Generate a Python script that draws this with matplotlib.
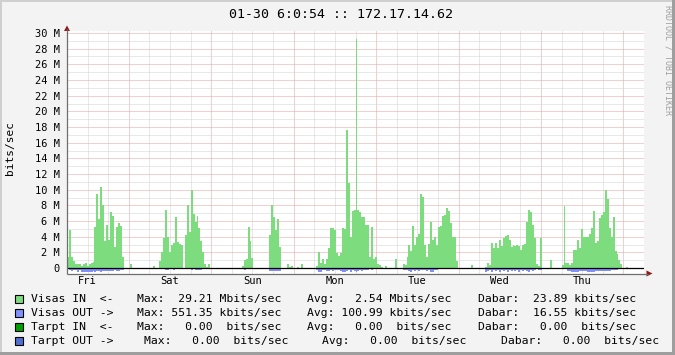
import matplotlib
matplotlib.use('Agg')
import matplotlib.pyplot as plt
from matplotlib.patches import Rectangle, Polygon
import numpy as np

W, H, DPI = 675, 355, 100
MONO = 'DejaVu Sans Mono'

# ---------------- data ----------------
days = ['Fri', 'Sat', 'Sun', 'Mon', 'Tue', 'Wed', 'Thu']
y_ticks = list(range(0, 31, 2))
y_tick_labels = ['0'] + [f'{v} M' for v in range(2, 31, 2)]
title = '01-30 6:0:54 :: 172.17.14.62'
y_label = 'bits/sec'
credit = 'RRDTOOL / TOBI OETIKER'

# IN traffic (Mbits/s), 42 samples per day, days start at 06:00
fri_in = [1.4, 4.8, 1.4, 0.85, 0.5, 0.5, 0.55, 0.3, 0.55, 0.65, 0.3, 0.55, 0.7, 0.8,
          5.2, 9.5, 6.2, 10.3, 8.1, 3.5, 5.5, 3.6, 7.2, 6.7, 2.7, 5.2, 5.8, 5.4, 1.4,
          0, 0, 0, 0.45, 0, 0, 0, 0, 0, 0, 0, 0, 0]
sat_in = [0, 0, 0.3, 0, 0, 0.9, 2.0, 3.8, 7.4, 4.0, 2.0, 2.9, 3.2, 6.55, 3.3, 3.1, 3.0,
          0, 4.2, 8.0, 4.6, 10.0, 6.85, 5.9, 6.6, 5.1, 3.4, 2.1, 0.45, 0.1, 0.45,
          0, 0, 0, 0, 0, 0, 0, 0, 0, 0, 0]
sun_in = [0, 0, 0, 0, 0, 0.3, 1.0, 1.2, 5.2, 3.5, 1.3, 0, 0, 0, 0, 0, 0, 0, 0,
          4.2, 8.0, 6.5, 4.8, 6.3, 2.7, 0, 0, 0, 0.5, 0.15, 0.25, 0, 0, 0.15, 0, 0.5,
          0, 0, 0, 0, 0, 0]
mon_in = [0, 0.25, 2.0, 0.6, 1.1, 0.5, 1.1, 2.55, 5.1, 5.1, 4.8, 1.9, 1.5, 1.95, 5.1,
          4.95, 17.6, 10.8, 4.0, 7.3, 7.4, 29.2, 7.4, 7.2, 6.5, 6.5, 5.5, 5.5, 1.35, 5.2,
          1.2, 1.35, 0.5, 0.4, 0.15, 0, 0.25, 0, 0, 0, 0, 1.1]
tue_in = [0, 0, 0, 0.5, 0.35, 1.45, 2.9, 2.2, 5.35, 2.9, 4.0, 4.4, 9.45, 9.1, 2.9, 1.35,
          3.1, 5.9, 3.6, 4.0, 2.95, 5.2, 5.35, 6.65, 6.8, 7.7, 7.3, 5.7, 4.0, 4.0, 0.9,
          0, 0, 0, 0, 0, 0, 0, 0.4, 0, 0, 0]
wed_in = [0, 0, 0, 0.1, 0.7, 0.4, 3.2, 2.6, 3.15, 2.5, 3.6, 2.85, 3.8, 4.1, 4.2, 3.6,
          2.7, 2.9, 2.75, 2.9, 2.75, 2.3, 2.9, 3.1, 5.9, 7.45, 7.1, 5.55, 3.8, 0.45, 0.3,
          3.8, 0, 0, 0, 0, 1.0, 0, 0, 0, 0, 0]
thu_in = [0.4, 7.95, 0.6, 0.7, 0.4, 0.65, 2.3, 2.25, 3.6, 2.5, 5.0, 3.9, 4.0, 4.0, 4.4,
          5.05, 7.3, 3.15, 3.5, 6.35, 6.75, 7.1, 9.9, 8.8, 5.05, 4.0, 6.55, 2.15, 1.85,
          1.0, 0.45, 0, 0, 0.15, 0, 0, 0, 0, 0, 0, 0, 0]

# OUT traffic (Mbits/s), drawn below the zero line
fri_out = [0.15, 0.3, 0.35, 0.25, 0.3, 0.45, 0.3, 0.45, 0.5, 0.55, 0.45, 0.55, 0.45, 0.35,
           0.45, 0.35, 0.35, 0.45, 0.35, 0.35, 0.35, 0.35, 0.35, 0.35, 0.3, 0.35, 0.35,
           0.3, 0.3, 0, 0, 0, 0, 0, 0, 0, 0, 0, 0, 0, 0, 0]
sat_out = [0, 0, 0, 0, 0, 0, 0, 0, 0.3, 0.3, 0, 0, 0.3, 0, 0, 0, 0, 0, 0, 0, 0, 0.3, 0,
           0.3, 0.3, 0.3, 0.3, 0, 0, 0, 0, 0, 0, 0, 0, 0, 0, 0, 0, 0, 0, 0]
sun_out = [0, 0, 0, 0, 0, 0, 0.3, 0, 0, 0, 0, 0, 0, 0, 0, 0, 0, 0, 0, 0.35, 0.35, 0.35,
           0.35, 0.35, 0.35, 0, 0, 0, 0, 0, 0, 0, 0, 0, 0, 0, 0, 0, 0, 0, 0, 0]
mon_out = [0, 0.25, 0.45, 0.45, 0.3, 0.3, 0.35, 0.35, 0.3, 0.35, 0.3, 0.25, 0.3, 0.35,
           0.45, 0.45, 0.35, 0.3, 0.55, 0.3, 0.35, 0.55, 0.35, 0.3, 0.35, 0.3, 0.3, 0.25,
           0.15, 0.25, 0.15, 0, 0, 0, 0, 0, 0, 0, 0, 0, 0, 0]
tue_out = [0, 0, 0, 0.25, 0.3, 0.3, 0.35, 0.55, 0.3, 0.35, 0.3, 0.35, 0.3, 0.3, 0.3,
           0.35, 0.3, 0.45, 0.45, 0.3, 0.25, 0, 0, 0, 0, 0, 0, 0, 0, 0, 0, 0, 0, 0, 0,
           0, 0, 0, 0, 0, 0, 0]
wed_out = [0, 0, 0, 0.55, 0.35, 0.3, 0.45, 0.3, 0.35, 0.3, 0.45, 0.3, 0.35, 0.3, 0.45,
           0.3, 0.35, 0.3, 0.35, 0.3, 0.45, 0.3, 0.35, 0.3, 0.35, 0.45, 0.3, 0.35, 0.3,
           0, 0.3, 0.3, 0, 0, 0, 0, 0, 0, 0, 0, 0, 0]
thu_out = [0, 0, 0, 0.35, 0.35, 0.5, 0.5, 0.5, 0.5, 0.35, 0.35, 0.35, 0.35, 0.5,
           0.5, 0.5, 0.5, 0.35, 0.35, 0.35, 0.35, 0.35, 0.35, 0.35, 0.35, 0.3, 0.3,
           0.3, 0.3, 0, 0, 0, 0, 0, 0, 0, 0, 0, 0, 0, 0, 0]

legend_labels = ['Visas IN  <-', 'Visas OUT ->', 'Tarpt IN  <-', 'Tarpt OUT ->']
legend_colors = ['#7ddc7d', '#8090ff', '#00a000', '#5070d0']
max_vals = [29.21, 551.35, 0.00, 0.00]
max_units = ['M', 'k', ' ', ' ']
avg_vals = [2.54, 100.99, 0.00, 0.00]
avg_units = ['M', 'k', ' ', ' ']
cur_vals = [23.89, 16.55, 0.00, 0.00]
cur_units = ['k', 'k', ' ', ' ']

# ---------------- figure ----------------
fig = plt.figure(figsize=(W / DPI, H / DPI), dpi=DPI)
fig.patch.set_facecolor('#f3f3f3')

# background / frame layer (pixel coords)
bg = fig.add_axes([0, 0, 1, 1], zorder=0)
bg.set_xlim(0, W); bg.set_ylim(H, 0); bg.axis('off')
bg.add_patch(Rectangle((0, 0), W, 2, color='#cfcfcf', lw=0))
bg.add_patch(Rectangle((0, 0), 2, H, color='#cfcfcf', lw=0))
bg.add_patch(Rectangle((0, H - 3), W, 3, color='#9e9e9e', lw=0))
bg.add_patch(Rectangle((W - 3, 0), 3, H, color='#9e9e9e', lw=0))

# data axes
ax_l, ax_r, ax_t, ax_b = 67, 644, 31, 274
ax = fig.add_axes([ax_l / W, (H - ax_b) / H, (ax_r - ax_l) / W, (ax_b - ax_t) / H], zorder=1)
ax.set_facecolor('white')
px_per_m = 235 / 30.0
ax.set_xlim(0, 7)
ax.set_ylim(-(ax_b - 268) / px_per_m, (268 - ax_t) / px_per_m)
for s in ax.spines.values():
    s.set_visible(False)

# grid
dot = (0, (1, 1))
for k in range(29):
    xv = k * 0.25
    major = abs((xv - 0.75) % 1.0) < 1e-6
    ax.axvline(xv, color='#e6a3a3' if major else '#d2d2d2', lw=0.72, ls=dot, zorder=1)
for v in range(1, 31):
    ax.axhline(v, color='#e6a3a3' if v % 2 == 0 else '#d2d2d2', lw=0.72, ls=dot, zorder=1)

vin = np.array(fri_in + sat_in + sun_in + mon_in + tue_in + wed_in + thu_in)
vout = np.array(fri_out + sat_out + sun_out + mon_out + tue_out + wed_out + thu_out)
edges = np.linspace(0, 7, len(vin) + 1)
ax.stairs(vin, edges, fill=True, color=legend_colors[0], lw=0, zorder=2)
ax.stairs(-vout, edges, fill=True, color=legend_colors[1], lw=0, zorder=2)
ax.axhline(0, color='black', lw=0.9, zorder=3)

ax.set_yticks(y_ticks, y_tick_labels, fontsize=7.5, family=MONO)
ax.set_xticks([k + 0.25 for k in range(7)], days, fontsize=7.5, family=MONO)
ax.tick_params(axis='y', length=0, pad=5)
ax.tick_params(axis='x', length=0, pad=1.5)
ax.set_ylabel(y_label, fontsize=8, family=MONO)
ax.yaxis.set_label_coords((10 - ax_l) / (ax_r - ax_l), (ax_b - 148) / (ax_b - ax_t))
ax.yaxis.label.set_va('center')

# overlay layer (pixel coords): axis lines, arrows, title, legend
ov = fig.add_axes([0, 0, 1, 1], zorder=5)
ov.set_xlim(0, W); ov.set_ylim(H, 0); ov.axis('off'); ov.patch.set_alpha(0)
ov.plot([67, 67], [274, 29], color='#6e6e6e', lw=0.9, solid_capstyle='butt')
ov.plot([67, 648], [273.5, 273.5], color='#6e6e6e', lw=0.9, solid_capstyle='butt')
arrow_c = '#8e1b1b'
ov.add_patch(Polygon([[64, 31], [70, 31], [67, 25.5]], closed=True, color=arrow_c, lw=0))
ov.add_patch(Polygon([[646.5, 270.5], [646.5, 276.5], [652.5, 273.5]], closed=True, color=arrow_c, lw=0))

ov.text(341, 14, title, fontsize=9.5, family=MONO, ha='center', va='center', color='#000000')
ov.text(668, 5, credit, fontsize=6, family=MONO, rotation=270, ha='center', va='top', color='#a0a0a0')

rows_y = [299, 313, 327, 341]
max_x = [137.3, 137.3, 137.3, 144.3]
avg_x = [307.3, 307.3, 307.3, 321.7]
cur_x = [477.7, 477.7, 477.7, 501.0]
fs = 8.2
for i in range(4):
    y = rows_y[i]
    ov.add_patch(Rectangle((15, y - 4.5), 8, 8, facecolor=legend_colors[i], edgecolor='black', lw=0.8))
    ov.text(31, y, legend_labels[i], fontsize=fs, family=MONO, va='center', ha='left')
    ov.text(max_x[i], y, f'Max:{max_vals[i]:7.2f} {max_units[i]}bits/sec', fontsize=fs, family=MONO, va='center', ha='left')
    ov.text(avg_x[i], y, f'Avg:{avg_vals[i]:7.2f} {avg_units[i]}bits/sec', fontsize=fs, family=MONO, va='center', ha='left')
    ov.text(cur_x[i], y, f'Dabar:{cur_vals[i]:7.2f} {cur_units[i]}bits/sec', fontsize=fs, family=MONO, va='center', ha='left')

fig.savefig('out.png', dpi=DPI, facecolor=fig.get_facecolor())
